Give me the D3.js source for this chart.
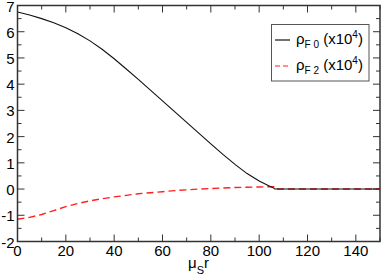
<!DOCTYPE html>
<html><head><meta charset="utf-8">
<script src="https://cdn.jsdelivr.net/npm/d3@7"></script>
<style>body{margin:0;background:#fff}svg{display:block}text{font-family:"Liberation Sans",Arial,sans-serif}</style>
</head><body><svg id="c" width="382" height="277"></svg>
<script>
const xF0 = [0,5,10,15,20,25,30,35,40,45,50,55,60,65,70,75,80,85,90,95,100,105,106,106.5,150];
const yF0 = [6.75,6.64,6.50,6.34,6.15,5.92,5.65,5.33,4.97,4.58,4.18,3.77,3.36,2.95,2.54,2.13,1.72,1.32,0.94,0.59,0.31,0.08,0.04,0,0];
const xF2 = [0,5,10,15,20,25,30,35,40,45,50,55,60,65,70,75,80,85,90,95,100,105,106,106.5,150];
const yF2 = [-1.15,-1.08,-0.97,-0.82,-0.67,-0.55,-0.45,-0.37,-0.30,-0.24,-0.18,-0.14,-0.10,-0.06,-0.03,0.0,0.02,0.04,0.06,0.07,0.08,0.09,0.09,0,0];
const xTicks = [0,20,40,60,80,100,120,140];
const yTicks = [-2,-1,0,1,2,3,4,5,6,7];

const svg = d3.select("#c");
const L=17.5, R=380, T=5.5, B=241.5;
const x = d3.scaleLinear().domain([0,150]).range([L,R]);
const y = d3.scaleLinear().domain([-2,7]).range([B,T]);
const axisColor="#333";

const xMinor = d3.range(0,151,10), yMinor = d3.range(-2,7.01,0.5);
function tk(x1,y1,x2,y2){svg.append("line").attr("x1",x1).attr("y1",y1).attr("x2",x2).attr("y2",y2).attr("stroke",axisColor).attr("stroke-width",1);}
xMinor.forEach(v=>{const maj=v%20===0;const l=maj?7:4;tk(x(v),B,x(v),B-l);tk(x(v),T,x(v),T+l);});
yMinor.forEach(v=>{const maj=Number.isInteger(v);const l=maj?7:4;tk(L,y(v),L+l,y(v));tk(R,y(v),R-l,y(v));});

const line=(xs,ys)=>d3.line().x((d,i)=>x(xs[i])).y((d,i)=>y(ys[i]))(ys);
svg.append("path").attr("d",line(xF2,yF2)).attr("fill","none").attr("stroke","#ff2020").attr("stroke-width",1.4).attr("stroke-dasharray","7,4");
svg.append("path").attr("d",line(xF0,yF0)).attr("fill","none").attr("stroke","#111").attr("stroke-width",1.1);

svg.append("rect").attr("x",L).attr("y",T).attr("width",R-L).attr("height",B-T).attr("fill","none").attr("stroke",axisColor).attr("stroke-width",1.5);

xTicks.forEach(v=>svg.append("text").attr("x",x(v)).attr("y",256).attr("text-anchor","middle").attr("font-size",15).attr("fill","#000").text(v));
yTicks.forEach(v=>svg.append("text").attr("x",14.5).attr("y",y(v)+6).attr("text-anchor","end").attr("font-size",15).attr("fill","#000").text(v));

const xl=svg.append("text").attr("x",188).attr("y",268).attr("font-size",15).attr("fill","#000");
xl.append("tspan").text("μ");
xl.append("tspan").attr("dy",6).attr("font-size",11).text("S");
xl.append("tspan").attr("dy",-6).text("r");

svg.append("rect").attr("x",271.5).attr("y",24.5).attr("width",97.5).attr("height",56.5).attr("fill","#fff").attr("stroke","#555").attr("stroke-width",1);
const leg=[{name:"F 0",color:"#111",dash:null,yy:40},{name:"F 2",color:"#ff2020",dash:"5,3",yy:66}];
leg.forEach(d=>{
  svg.append("line").attr("x1",275).attr("x2",290).attr("y1",d.yy).attr("y2",d.yy).attr("stroke",d.color).attr("stroke-width",1.2).attr("stroke-dasharray",d.dash);
  const t=svg.append("text").attr("x",296).attr("y",d.yy+4).attr("font-size",15).attr("fill","#000");
  t.append("tspan").text("ρ");
  t.append("tspan").attr("dy",4).attr("font-size",10).text(d.name);
  t.append("tspan").attr("dy",-4).text(" (x10");
  t.append("tspan").attr("dy",-6).attr("font-size",10).text("4");
  t.append("tspan").attr("dy",6).text(")");
});
</script></body></html>
